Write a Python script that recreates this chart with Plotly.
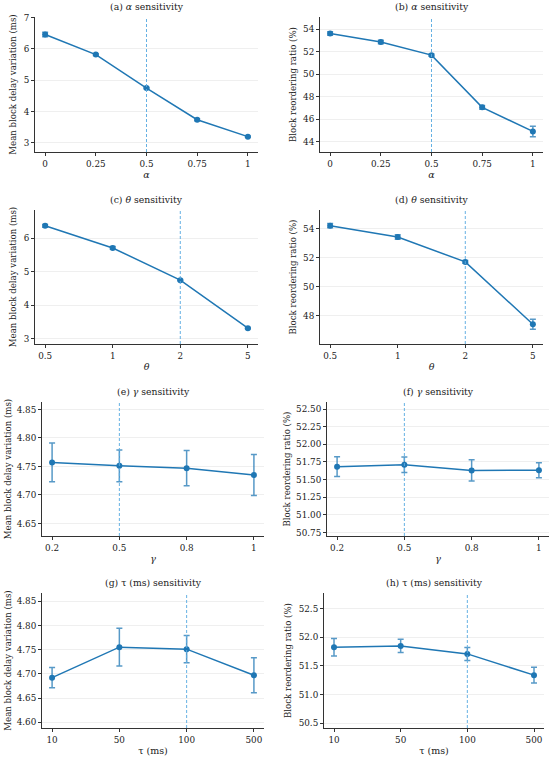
import plotly.graph_objects as go
from plotly.subplots import make_subplots

# parameter grids (categorical x axes)
alpha_vals = ["0", "0.25", "0.5", "0.75", "1"]
theta_vals = ["0.5", "1", "2", "5"]
gamma_vals = ["0.2", "0.5", "0.8", "1"]
tau_vals = ["10", "50", "100", "500"]

# mean block delay variation (ms) and error
alpha_delay = [6.46, 5.82, 4.75, 3.74, 3.20]
alpha_delay_err = [0.07, 0.03, 0.02, 0.03, 0.02]
theta_delay = [6.37, 5.71, 4.75, 3.32]
theta_delay_err = [0.04, 0.04, 0.02, 0.02]
gamma_delay = [4.757, 4.751, 4.747, 4.735]
gamma_delay_err = [0.034, 0.028, 0.031, 0.036]
tau_delay = [4.692, 4.755, 4.751, 4.697]
tau_delay_err = [0.021, 0.039, 0.028, 0.036]

# block reordering ratio (%) and error
alpha_reorder = [53.63, 52.88, 51.71, 47.07, 44.93]
alpha_reorder_err = [0.15, 0.15, 0.10, 0.16, 0.47]
theta_reorder = [54.21, 53.43, 51.71, 47.41]
theta_reorder_err = [0.15, 0.15, 0.10, 0.34]
gamma_reorder = [51.683, 51.710, 51.630, 51.632]
gamma_reorder_err = [0.14, 0.11, 0.15, 0.105]
tau_reorder = [51.826, 51.849, 51.71, 51.34]
tau_reorder_err = [0.153, 0.116, 0.113, 0.136]

defaults = {"alpha": "0.5", "theta": "2", "gamma": "0.5", "tau": "100"}

W, H = 550, 760
FONT = "DejaVu Serif"
LINE = "#1f77b4"
ERR = "rgba(31,119,180,0.75)"
VLINE = "rgba(93,173,226,0.95)"


def px_x(x):
    return x / W


def px_y(y):
    return 1 - y / H


# (label, x cats, y, err, x title, y title, default, y range, dtick, fmt, pixel box l,r,t,b, y title standoff)
panels = [
    ("(a) <i>α</i> sensitivity", alpha_vals, alpha_delay, alpha_delay_err, "<i>α</i>",
     "Mean block delay variation (ms)", "alpha", [2.71, 7.02], 1, "", (35, 258, 17, 152), 5),
    ("(b) <i>α</i> sensitivity", alpha_vals, alpha_reorder, alpha_reorder_err, "<i>α</i>",
     "Block reordering ratio (%)", "alpha", [43.1, 55.1], 2, "", (320, 543, 17, 152), 5),
    ("(c) <i>θ</i> sensitivity", theta_vals, theta_delay, theta_delay_err, "<i>θ</i>",
     "Mean block delay variation (ms)", "theta", [2.85, 6.84], 1, "", (35, 258, 210, 344), 5),
    ("(d) <i>θ</i> sensitivity", theta_vals, theta_reorder, theta_reorder_err, "<i>θ</i>",
     "Block reordering ratio (%)", "theta", [46.05, 55.29], 2, "", (320, 543, 210, 344), 5),
    ("(e) <i>γ</i> sensitivity", gamma_vals, gamma_delay, gamma_delay_err, "<i>γ</i>",
     "Mean block delay variation (ms)", "gamma", [4.628, 4.863], 0.05, ".2f", (42, 264, 402, 536), 3),
    ("(f) <i>γ</i> sensitivity", gamma_vals, gamma_reorder, gamma_reorder_err, "<i>γ</i>",
     "Block reordering ratio (%)", "gamma", [50.70, 52.60], 0.25, ".2f", (327, 549, 402, 536), 4),
    ("(g) τ (ms) sensitivity", tau_vals, tau_delay, tau_delay_err, "τ (ms)",
     "Mean block delay variation (ms)", "tau", [4.588, 4.867], 0.05, ".2f", (42, 264, 593, 728), 3),
    ("(h) τ (ms) sensitivity", tau_vals, tau_reorder, tau_reorder_err, "τ (ms)",
     "Block reordering ratio (%)", "tau", [50.42, 52.77], 0.5, ".1f", (324, 544, 593, 728), 5),
]

fig = make_subplots(rows=4, cols=2)

for i, (title, xs, ys, errs, xt, yt, key, yr, dt, fmt, box, sy) in enumerate(panels):
    r, c = i // 2 + 1, i % 2 + 1
    l, rr, t, b = box
    fig.add_trace(go.Scatter(
        x=xs, y=ys, mode="lines+markers",
        line=dict(color=LINE, width=1.5),
        marker=dict(color=LINE, size=6),
        error_y=dict(type="data", array=errs, color=ERR, thickness=1.5, width=3),
        showlegend=False,
    ), row=r, col=c)
    n = len(xs)
    fig.update_xaxes(
        type="category", range=[-0.05 * (n - 1), (n - 1) * 1.05],
        domain=[px_x(l), min(px_x(rr), 1)], automargin=False,
        title=dict(text=xt, font=dict(size=9.5), standoff=3),
        showline=True, linecolor="#333", linewidth=1,
        ticks="outside", ticklen=3, tickcolor="#333", showgrid=False, zeroline=False,
        row=r, col=c)
    fig.update_yaxes(
        range=yr, dtick=dt, tickformat=fmt,
        domain=[px_y(b), px_y(t)], automargin=False,
        title=dict(text=yt, font=dict(size=8.6), standoff=sy),
        showline=True, linecolor="#333", linewidth=1,
        ticks="outside", ticklen=3, tickcolor="#333",
        showgrid=True, gridcolor="#efefef", gridwidth=1, zeroline=False,
        row=r, col=c)
    fig.add_vline(x=xs.index(defaults[key]), line=dict(color=VLINE, width=1, dash="3px,2px"),
                  row=r, col=c)
    fig.add_annotation(
        text=title, x=px_x((l + rr) / 2), y=px_y(t - 3), xref="paper", yref="paper",
        xanchor="center", yanchor="bottom", showarrow=False, font=dict(size=9.3))

fig.update_layout(
    width=W, height=H, margin=dict(l=0, r=0, t=0, b=0),
    paper_bgcolor="white", plot_bgcolor="white",
    font=dict(family=FONT, size=8.8, color="#222"),
)

# drop the default 8px page margin so the figure fills the window; no modebar
fig.write_html("out.html", config={"displayModeBar": False},
               post_script="document.body.style.margin='0';")
